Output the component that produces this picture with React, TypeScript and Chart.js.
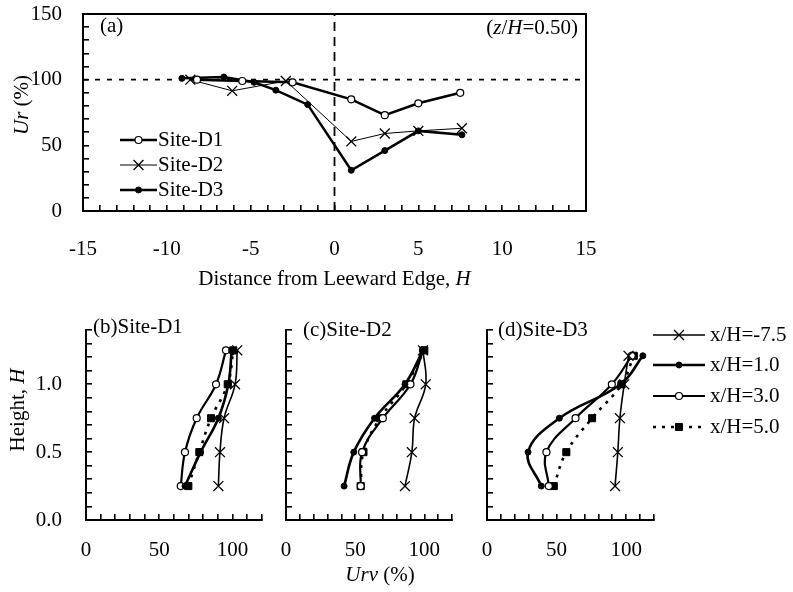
import React, { useEffect, useRef } from 'react';
import { Chart, registerables } from 'chart.js';

Chart.register(...registerables);

const FONT = "'Liberation Serif', 'Times New Roman', serif";
const FS = 21;
Chart.defaults.font.family = FONT;
Chart.defaults.font.size = FS;
Chart.defaults.color = '#000';

// ---------- Panel (a): Ur (%) vs distance from leeward edge ----------
const siteD1X = [-8.2, -5.5, -2.5, 1, 3, 5, 7.5];
const siteD1Y = [100, 99, 98, 85, 73, 82, 90];
const siteD2X = [-8.6, -6.1, -2.9, 1, 3, 5, 7.6];
const siteD2Y = [100, 91.5, 99, 53, 59, 61, 63];
const siteD3X = [-9.1, -6.6, -4.8, -3.5, -1.6, 1, 3, 5, 7.6];
const siteD3Y = [101, 102, 98, 92, 81, 31, 46, 61, 58];
const refLevel = [100, 100];
const refLevelX = [-15, 15];
const refEdgeX = [0, 0];
const refEdgeY = [0, 150];
const aXLabels = [-15, -10, -5, 0, 5, 10, 15];
const aYLabels = [0, 50, 100, 150];

// ---------- Panels (b)-(d): Urv (%) profiles vs height ----------
const heightsBC = [0.25, 0.5, 0.75, 1.0, 1.25];
const heightsD = [0.25, 0.5, 0.75, 1.0, 1.21];
const profileLabels = ['x/H=-7.5', 'x/H=1.0', 'x/H=3.0', 'x/H=5.0'];
// (b) Site-D1
const bNeg75 = [90.4, 91.5, 94.3, 101.8, 103.3];
const bPos10 = [67.6, 78.3, 90.4, 97.2, 99.5];
const bPos30 = [64.7, 67.6, 75.6, 88.8, 95.6];
const bPos50 = [69.9, 77.4, 85.4, 96.8, 100.6];
// (c) Site-D2
const cNeg75 = [86, 91, 93, 101, 99];
const cPos10 = [42, 49, 64, 86, 99];
const cPos30 = [54, 55, 70, 90, 99];
const cPos50 = [54, 56, 68, 87, 100];
// (d) Site-D3
const dNeg75 = [92, 94, 95.5, 98.6, 101.7];
const dPos10 = [39, 29.5, 52, 96, 112];
const dPos30 = [44.4, 42.7, 63.6, 89.7, 104];
const dPos50 = [48, 57, 75.5, 96.7, 105.5];
const bXLabels = [0, 50, 100];
const bYLabels = [0, 0.5, 1.0];

const zip = (xs: number[], ys: number[]) => xs.map((x, i) => ({ x, y: ys[i] }));

type Part = [string, boolean];
type TextItem = { parts: Part[]; x: number; y: number; align: 'left' | 'center' | 'right'; rotate?: boolean };

function drawRich(ctx: CanvasRenderingContext2D, t: TextItem) {
  ctx.save();
  ctx.translate(t.x, t.y);
  if (t.rotate) ctx.rotate(-Math.PI / 2);
  ctx.fillStyle = '#000';
  ctx.textBaseline = 'middle';
  ctx.textAlign = 'left';
  const fontFor = (it: boolean) => `${it ? 'italic ' : ''}${FS}px ${FONT}`;
  let total = 0;
  for (const [s, it] of t.parts) {
    ctx.font = fontFor(it);
    total += ctx.measureText(s).width;
  }
  let cx = t.align === 'left' ? 0 : t.align === 'center' ? -total / 2 : -total;
  for (const [s, it] of t.parts) {
    ctx.font = fontFor(it);
    ctx.fillText(s, cx, 0);
    cx += ctx.measureText(s).width;
  }
  ctx.restore();
}

function drawMarker(ctx: CanvasRenderingContext2D, style: string, r: number, x: number, y: number, fill: string, stroke: string, lw: number) {
  ctx.save();
  ctx.setLineDash([]);
  ctx.lineWidth = lw;
  ctx.strokeStyle = stroke;
  ctx.fillStyle = fill;
  ctx.beginPath();
  if (style === 'circle') {
    ctx.arc(x, y, r, 0, Math.PI * 2);
    ctx.fill();
    ctx.stroke();
  } else if (style === 'crossRot') {
    const d = r * Math.SQRT1_2;
    ctx.moveTo(x - d, y - d);
    ctx.lineTo(x + d, y + d);
    ctx.moveTo(x + d, y - d);
    ctx.lineTo(x - d, y + d);
    ctx.stroke();
  } else if (style === 'rect') {
    const s = r * Math.SQRT1_2;
    ctx.rect(x - s, y - s, 2 * s, 2 * s);
    ctx.fill();
    ctx.stroke();
  }
  ctx.restore();
}

function textPlugin(items: TextItem[]) {
  return {
    id: 'richTexts',
    afterDraw(chart: any) {
      const ctx = chart.ctx as CanvasRenderingContext2D;
      items.forEach((t) => drawRich(ctx, t));
    },
  };
}

function legendPlugin(x0: number, lineLen: number, textX: number, ys: number[]) {
  return {
    id: 'customLegend',
    afterDraw(chart: any) {
      const ctx = chart.ctx as CanvasRenderingContext2D;
      const ds = chart.data.datasets.filter((d: any) => d.label);
      ds.forEach((d: any, i: number) => {
        const y = ys[i];
        ctx.save();
        ctx.strokeStyle = '#000';
        ctx.lineWidth = d.borderWidth;
        ctx.setLineDash(d.borderDash || []);
        ctx.beginPath();
        ctx.moveTo(x0, y);
        ctx.lineTo(x0 + lineLen, y);
        ctx.stroke();
        ctx.restore();
        drawMarker(ctx, d.pointStyle, d.pointRadius, x0 + lineLen / 2, y, d.pointBackgroundColor, '#000', d.pointBorderWidth);
        drawRich(ctx, { parts: [[d.label, false]], x: textX, y, align: 'left' });
      });
    },
  };
}

const framePlugin = {
  id: 'frame',
  afterDraw(chart: any) {
    const { ctx, chartArea: a } = chart;
    ctx.save();
    ctx.strokeStyle = '#000';
    ctx.lineWidth = 2;
    ctx.strokeRect(a.left, a.top, a.right - a.left, a.bottom - a.top);
    ctx.restore();
  },
};

const axisGrid = { display: true, drawOnChartArea: false, drawTicks: true, tickLength: -6, color: '#000', tickColor: '#000', tickWidth: 1.6, lineWidth: 1.6 };
const axisBorder = { color: '#000', width: 2 };

// Fix the axis thickness and stop tick labels from pushing the plot area around.
const fixAxis = (size: number) => (s: any) => {
  if (s.isHorizontal()) s.height = size;
  else s.width = size;
  s.paddingLeft = 0;
  s.paddingRight = 0;
  s.paddingTop = 0;
  s.paddingBottom = 0;
};

function makeTopConfig(): any {
  return {
    type: 'scatter',
    data: {
      datasets: [
        { label: 'Site-D1', data: zip(siteD1X, siteD1Y), showLine: true, borderColor: '#000', borderWidth: 2.5, pointStyle: 'circle', pointRadius: 3.5, pointBackgroundColor: '#fff', pointBorderColor: '#000', pointBorderWidth: 1.2 },
        { label: 'Site-D2', data: zip(siteD2X, siteD2Y), showLine: true, borderColor: '#000', borderWidth: 1, pointStyle: 'crossRot', pointRadius: 7, pointBackgroundColor: '#000', pointBorderColor: '#000', pointBorderWidth: 1.3 },
        { label: 'Site-D3', data: zip(siteD3X, siteD3Y), showLine: true, borderColor: '#000', borderWidth: 2.5, pointStyle: 'circle', pointRadius: 3, pointBackgroundColor: '#000', pointBorderColor: '#000', pointBorderWidth: 1 },
        { label: '', data: zip(refLevelX, refLevel), showLine: true, borderColor: '#000', borderWidth: 1.8, borderDash: [5, 7], pointRadius: 0 },
        { label: '', data: zip(refEdgeX, refEdgeY), showLine: true, borderColor: '#000', borderWidth: 1.8, borderDash: [9, 6], pointRadius: 0 },
      ],
    },
    options: {
      responsive: false,
      animation: false,
      events: [],
      layout: { padding: { left: 0, top: 14, right: 24, bottom: 0 } },
      elements: { line: { tension: 0 } },
      plugins: { legend: { display: false }, tooltip: { enabled: false } },
      scales: {
        x: {
          type: 'linear', min: -15, max: 15,
          ticks: { stepSize: 1, autoSkip: false, maxRotation: 0, padding: 32, callback: (v: any) => (aXLabels.includes(Number(v)) ? String(v) : '') },
          grid: axisGrid, border: axisBorder,
          afterFit: fixAxis(89),
        },
        y: {
          type: 'linear', min: 0, max: 150,
          ticks: { stepSize: 10, autoSkip: false, padding: 27, callback: (v: any) => (aYLabels.includes(Number(v)) ? String(v) : '') },
          grid: axisGrid, border: axisBorder,
          afterFit: fixAxis(83),
        },
      },
    },
    plugins: [
      framePlugin,
      textPlugin([
        { parts: [['(a)', false]], x: 100, y: 26, align: 'left' },
        { parts: [['(', false], ['z', true], ['/', false], ['H', true], ['=0.50)', false]], x: 578, y: 28, align: 'right' },
        { parts: [['Ur', true], [' (%)', false]], x: 22, y: 105, align: 'center', rotate: true },
        { parts: [['Distance from Leeward Edge, ', false], ['H', true]], x: 334.5, y: 279, align: 'center' },
      ]),
      legendPlugin(120, 37, 158, [140, 165, 190]),
    ],
  };
}

function profileDatasets(heights: number[], neg75: number[], p10: number[], p30: number[], p50: number[]) {
  return [
    { label: profileLabels[0], data: zip(neg75, heights), showLine: true, borderColor: '#000', borderWidth: 1.6, pointStyle: 'crossRot', pointRadius: 7, pointBackgroundColor: '#000', pointBorderColor: '#000', pointBorderWidth: 1.3 },
    { label: profileLabels[1], data: zip(p10, heights), showLine: true, borderColor: '#000', borderWidth: 2.6, pointStyle: 'circle', pointRadius: 3, pointBackgroundColor: '#000', pointBorderColor: '#000', pointBorderWidth: 1 },
    { label: profileLabels[2], data: zip(p30, heights), showLine: true, borderColor: '#000', borderWidth: 2.2, pointStyle: 'circle', pointRadius: 3.5, pointBackgroundColor: '#fff', pointBorderColor: '#000', pointBorderWidth: 1.2 },
    { label: profileLabels[3], data: zip(p50, heights), showLine: true, borderColor: '#000', borderWidth: 2.6, borderDash: [3, 6], pointStyle: 'rect', pointRadius: 5, pointBackgroundColor: '#000', pointBorderColor: '#000', pointBorderWidth: 1 },
  ];
}

function makeProfileConfig(datasets: any[], yWidth: number, padRight: number, showYLabels: boolean, plugins: any[]): any {
  return {
    type: 'scatter',
    data: { datasets },
    options: {
      responsive: false,
      animation: false,
      events: [],
      layout: { padding: { left: 0, top: 30, right: padRight, bottom: 0 } },
      elements: { line: { tension: 0.4 } },
      plugins: { legend: { display: false }, tooltip: { enabled: false } },
      scales: {
        x: {
          type: 'linear', min: 0, max: 120,
          ticks: { stepSize: 10, autoSkip: false, maxRotation: 0, padding: 24, callback: (v: any) => (bXLabels.includes(Number(v)) ? String(v) : '') },
          grid: axisGrid, border: axisBorder,
          afterFit: fixAxis(72),
        },
        y: {
          type: 'linear', min: 0, max: 1.4,
          ticks: {
            display: showYLabels, stepSize: 0.1, autoSkip: false, padding: 30,
            callback: (v: any) => {
              const r = Math.round(Number(v) * 10) / 10;
              return bYLabels.includes(r) ? r.toFixed(1) : '';
            },
          },
          grid: axisGrid, border: axisBorder,
          afterFit: fixAxis(yWidth),
        },
      },
    },
    plugins,
  };
}

function ChartBox({ left, top, width, height, make }: { left: number; top: number; width: number; height: number; make: () => any }) {
  const ref = useRef<HTMLCanvasElement>(null);
  useEffect(() => {
    const chart = new Chart(ref.current as HTMLCanvasElement, make());
    return () => chart.destroy();
  }, []);
  return <canvas ref={ref} width={width} height={height} style={{ position: 'absolute', left, top, width, height }} />;
}

export default function App() {
  return (
    <div style={{ position: 'absolute', left: 0, top: 0, width: 793, height: 592, background: '#fff', overflow: 'hidden' }}>
      <ChartBox left={0} top={0} width={610} height={300} make={makeTopConfig} />
      <ChartBox
        left={0} top={300} width={270} height={292}
        make={() => makeProfileConfig(profileDatasets(heightsBC, bNeg75, bPos10, bPos30, bPos50), 86, 8, true, [
          textPlugin([
            { parts: [['(b)Site-D1', false]], x: 93, y: 27, align: 'left' },
            { parts: [['Height, ', false], ['H', true]], x: 18, y: 110, align: 'center', rotate: true },
          ]),
        ])}
      />
      <ChartBox
        left={270} top={300} width={200} height={292}
        make={() => makeProfileConfig(profileDatasets(heightsBC, cNeg75, cPos10, cPos30, cPos50), 16, 18, false, [
          textPlugin([
            { parts: [['(c)Site-D2', false]], x: 33, y: 30, align: 'left' },
            { parts: [['Urv', true], [' (%)', false]], x: 110, y: 275, align: 'center' },
          ]),
        ])}
      />
      <ChartBox
        left={470} top={300} width={323} height={292}
        make={() => makeProfileConfig(profileDatasets(heightsD, dNeg75, dPos10, dPos30, dPos50), 17, 139, false, [
          textPlugin([{ parts: [['(d)Site-D3', false]], x: 28, y: 30, align: 'left' }]),
          legendPlugin(183, 52, 240, [35, 65, 96, 127]),
        ])}
      />
    </div>
  );
}
